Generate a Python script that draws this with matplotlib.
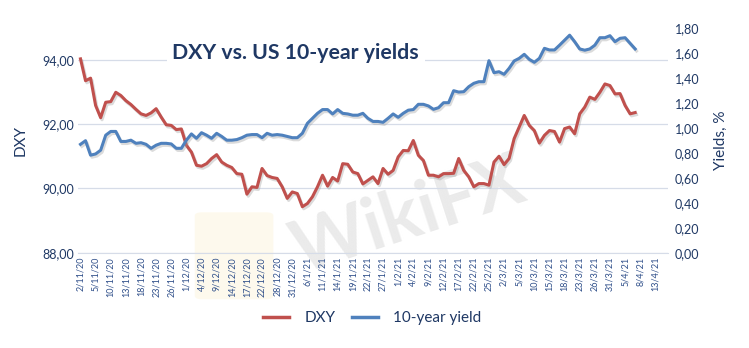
import matplotlib
matplotlib.use("Agg")
import matplotlib.pyplot as plt
import matplotlib.patheffects as pe
from matplotlib.patches import FancyBboxPatch

plt.rcParams['font.family'] = ['Lato', 'DejaVu Sans']

# daily closes, business days from 2/11/20 (25/12 and 1/1 skipped)
dxy = [94.03, 93.35, 93.43, 92.58, 92.20, 92.68, 92.70, 92.99, 92.89, 92.73,
       92.61, 92.46, 92.32, 92.27, 92.35, 92.48, 92.22, 91.98, 91.96, 91.83,
       91.85, 91.34, 91.13, 90.72, 90.69, 90.77, 90.93, 91.05, 90.82, 90.72,
       90.65, 90.46, 90.44, 89.82, 90.05, 90.03, 90.62, 90.40, 90.34, 90.31,
       90.05, 89.69, 89.89, 89.84, 89.43, 89.53, 89.74, 90.05, 90.41, 90.07,
       90.34, 90.23, 90.77, 90.75, 90.51, 90.46, 90.14, 90.25, 90.36, 90.15,
       90.62, 90.44, 90.56, 90.98, 91.18, 91.17, 91.49, 91.03, 90.87, 90.41,
       90.41, 90.36, 90.46, 90.46, 90.47, 90.93, 90.56, 90.36, 90.05, 90.15,
       90.15, 90.10, 90.82, 91.00, 90.74, 90.93, 91.55, 91.91, 92.27, 91.96,
       91.80, 91.41, 91.65, 91.80, 91.77, 91.44, 91.86, 91.91, 91.70, 92.32,
       92.53, 92.84, 92.77, 92.99, 93.25, 93.20, 92.94, 92.95, 92.58, 92.32,
       92.36]

yield10 = [0.867, 0.896, 0.780, 0.790, 0.820, 0.940, 0.970, 0.970, 0.890, 0.890,
           0.900, 0.875, 0.880, 0.867, 0.835, 0.860, 0.875, 0.875, 0.870, 0.835,
           0.835, 0.900, 0.950, 0.915, 0.960, 0.940, 0.915, 0.955, 0.930, 0.900,
           0.900, 0.905, 0.920, 0.940, 0.945, 0.945, 0.920, 0.955, 0.940, 0.945,
           0.940, 0.930, 0.920, 0.920, 0.955, 1.035, 1.075, 1.115, 1.145, 1.145,
           1.110, 1.145, 1.115, 1.110, 1.100, 1.100, 1.115, 1.075, 1.050, 1.050,
           1.043, 1.075, 1.110, 1.083, 1.115, 1.140, 1.145, 1.187, 1.187, 1.174,
           1.147, 1.160, 1.200, 1.200, 1.296, 1.285, 1.288, 1.328, 1.355, 1.368,
           1.368, 1.536, 1.440, 1.448, 1.427, 1.475, 1.534, 1.555, 1.587, 1.547,
           1.523, 1.555, 1.635, 1.622, 1.622, 1.660, 1.700, 1.740, 1.688, 1.630,
           1.620, 1.630, 1.660, 1.720, 1.720, 1.736, 1.688, 1.715, 1.720, 1.675,
           1.630]

tick_labels = ['2/11/20', '5/11/20', '10/11/20', '13/11/20', '18/11/20', '23/11/20',
               '26/11/20', '1/12/20', '4/12/20', '9/12/20', '14/12/20', '17/12/20',
               '22/12/20', '28/12/20', '31/12/20', '6/1/21', '11/1/21', '14/1/21',
               '19/1/21', '22/1/21', '27/1/21', '1/2/21', '4/2/21', '9/2/21',
               '12/2/21', '17/2/21', '22/2/21', '25/2/21', '2/3/21', '5/3/21',
               '10/3/21', '15/3/21', '18/3/21', '23/3/21', '26/3/21', '31/3/21',
               '5/4/21', '8/4/21', '13/4/21']
n_days = 117

navy = '#1F3864'
tick_col = '#2F4F8A'
red = '#C0504D'
blue = '#4F81BD'

fig = plt.figure(figsize=(7.49, 3.48), dpi=100)
ax = fig.add_axes([0.1041, 0.2739, 0.7877, 0.6465])
ax2 = ax.twinx()

# watermark
fig.text(0.545, 0.375, 'WikiFX', fontsize=52, fontweight='bold', color='#e4e4e4',
         rotation=18, ha='center', va='center', zorder=0, alpha=0.75)
fig.patches.append(FancyBboxPatch((0.27, 0.15), 0.085, 0.23, boxstyle='round,pad=0.01',
                                  transform=fig.transFigure, facecolor='#fcf3d8',
                                  edgecolor='none', alpha=0.45, zorder=0))
ax.set_zorder(2)
ax2.set_zorder(3)
ax.patch.set_visible(False)
ax2.patch.set_visible(False)

shadow = [pe.SimpleLineShadow(offset=(1, -1.5), shadow_color='#999999', alpha=0.35), pe.Normal()]
x = list(range(len(dxy)))
l1, = ax.plot(x, dxy, color=red, lw=2.2, path_effects=shadow, solid_joinstyle='round')
l2, = ax2.plot(x, yield10, color=blue, lw=2.2, path_effects=shadow, solid_joinstyle='round')

ax.set_xlim(-0.5, n_days - 0.5)
ax.set_ylim(88, 95)
ax.set_yticks([88, 90, 92, 94])
ax.set_yticklabels(['88,00', '90,00', '92,00', '94,00'])
ax2.set_ylim(0, 1.8)
yt = [i * 0.2 for i in range(10)]
ax2.set_yticks(yt)
ax2.set_yticklabels([('%.2f' % v).replace('.', ',') for v in yt])

ax.set_xticks(range(0, 3 * len(tick_labels), 3))
ax.set_xticklabels(tick_labels, rotation=90, fontsize=6.5, color=tick_col)
ax.grid(axis='y', color='#d6dce8', lw=0.9)
ax.set_axisbelow(True)

for a in (ax, ax2):
    for s in a.spines.values():
        s.set_visible(False)
    a.tick_params(length=0)
ax.spines['bottom'].set_visible(True)
ax.spines['bottom'].set_color('#d6dce8')
ax.tick_params(axis='y', labelsize=9, labelcolor=navy, pad=3)
ax.tick_params(axis='x', pad=3)
ax2.tick_params(axis='y', labelsize=9, labelcolor=navy, pad=5)

ax.set_ylabel('DXY', fontsize=11, color=navy, labelpad=10)
ax2.set_ylabel('Yields, %', fontsize=11, color=navy, labelpad=10)

ax.text(0.369, 0.888, 'DXY vs. US 10-year yields', transform=ax.transAxes, ha='center',
        va='center', fontsize=15.3, fontweight='bold', color=navy, zorder=5,
        bbox=dict(facecolor='white', edgecolor='none', pad=4))

fig.legend([l1, l2], ['DXY', '10-year yield'], loc='center', bbox_to_anchor=(0.497, 0.086),
           ncol=2, frameon=False, fontsize=11, labelcolor=navy, handlelength=1.7,
           columnspacing=1.1, handletextpad=1.0)
for h in fig.legends[0].legend_handles:
    h.set_path_effects([])
    h.set_linewidth(2.5)

fig.savefig('out.png', dpi=100)
